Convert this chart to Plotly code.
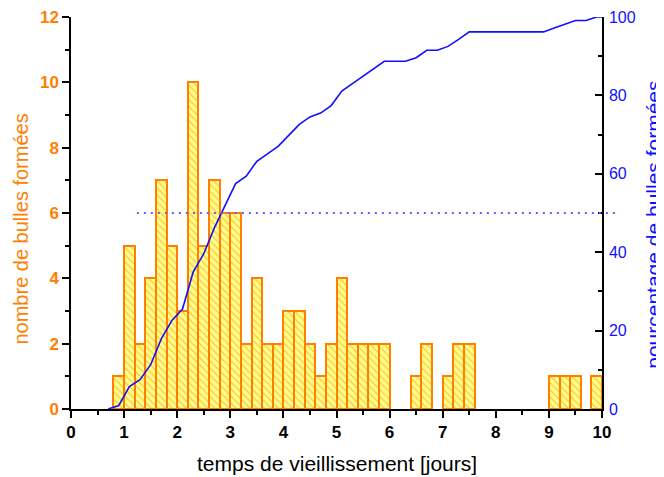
"""
Histogramme des bulles formées en fonction du temps de vieillissement,
avec le pourcentage cumulé sur l'axe de droite.
"""

import plotly.graph_objects as go

# bin centres (bins of 0.2 day)
bin_centres = [0.9, 1.1, 1.3, 1.5, 1.7, 1.9, 2.1, 2.3, 2.5, 2.7, 2.9, 3.1,
               3.3, 3.5, 3.7, 3.9, 4.1, 4.3, 4.5, 4.7, 4.9, 5.1, 5.3, 5.5,
               5.7, 5.9, 6.5, 6.7, 7.1, 7.3, 7.5, 9.1, 9.3, 9.5, 9.9]
bubble_counts = [1, 5, 2, 4, 7, 5, 3, 10, 5, 7, 6, 6,
                 2, 4, 2, 2, 3, 3, 2, 1, 2, 4, 2, 2,
                 2, 2, 1, 2, 1, 2, 2, 1, 1, 1, 1]

# cumulative percentage curve
cum_x = [0.7, 0.9, 1.1, 1.3, 1.5, 1.7, 1.9, 2.1, 2.3, 2.5, 2.7, 2.9, 3.1,
         3.3, 3.5, 3.7, 3.9, 4.1, 4.3, 4.5, 4.7, 4.9, 5.1, 5.3, 5.5, 5.7,
         5.9, 6.1, 6.3, 6.5, 6.7, 6.9, 7.1, 7.3, 7.5, 7.7, 8.9, 9.1, 9.3,
         9.5, 9.7, 9.9, 10.1]
cum_pct = [0.0, 0.9, 5.7, 7.5, 11.3, 17.9, 22.6, 25.5, 34.9, 39.6, 46.2,
           51.9, 57.5, 59.4, 63.2, 65.1, 67.0, 69.8, 72.6, 74.5, 75.5, 77.4,
           81.1, 83.0, 84.9, 86.8, 88.7, 88.7, 88.7, 89.6, 91.5, 91.5, 92.5,
           94.3, 96.2, 96.2, 96.2, 97.2, 98.1, 99.1, 99.1, 100.0, 100.0]

ORANGE = "#FF8000"
YELLOW = "#FFFF88"
BLUE = "#1010FF"
FONT = "Arial, Liberation Sans, sans-serif"

fig = go.Figure()

fig.add_trace(go.Bar(
    x=bin_centres,
    y=bubble_counts,
    width=0.2,
    marker=dict(
        color=YELLOW,
        line=dict(color=ORANGE, width=2),
        pattern=dict(shape="\\", fgcolor=ORANGE, bgcolor=YELLOW,
                     size=5, solidity=0.22),
    ),
    showlegend=False,
))

fig.add_trace(go.Scatter(
    x=cum_x,
    y=cum_pct,
    yaxis="y2",
    mode="lines",
    line=dict(color=BLUE, width=1.6),
    showlegend=False,
))

# 50 % guide line (runs slightly past the right axis)
fig.add_shape(
    type="line", xref="paper", yref="y2",
    x0=0.124, x1=1.025, y0=50, y1=50,
    line=dict(color="#6060FF", width=2, dash="2px,5px"),
)

# axis titles placed by hand
fig.add_annotation(
    text="nombre de bulles formées", textangle=-90,
    xref="paper", yref="paper", x=-0.094, y=0.458,
    xanchor="center", yanchor="middle", showarrow=False,
    font=dict(family=FONT, size=20, color=ORANGE),
)
fig.add_annotation(
    text="pourcentage de bulles formées", textangle=-90,
    xref="paper", yref="paper", x=1.098, y=0.47,
    xanchor="center", yanchor="middle", showarrow=False,
    font=dict(family=FONT, size=21, color=BLUE),
)
fig.add_annotation(
    text="temps de vieillissement [jours]",
    xref="paper", yref="paper", x=0.5, y=-0.138,
    xanchor="center", yanchor="middle", showarrow=False,
    font=dict(family=FONT, size=21, color="black"),
)

# the page body adds an 8 px offset, so the margins are shifted to compensate
fig.update_layout(
    width=664,
    height=477,
    margin=dict(l=63, r=70, t=9, b=76, autoexpand=False),
    plot_bgcolor="white",
    paper_bgcolor="white",
    bargap=0,
    font=dict(family=FONT),
    xaxis=dict(
        range=[0, 10],
        dtick=1,
        automargin=False,
        ticklabeloverflow="allow",
        showgrid=False,
        zeroline=False,
        showline=True,
        linecolor="black",
        linewidth=1.5,
        ticks="outside",
        ticklen=7,
        tickwidth=1.5,
        tickcolor="black",
        minor=dict(dtick=0.5, ticks="outside", ticklen=4, tickcolor="black", tickwidth=1.5),
        tickfont=dict(family=FONT, size=17, color="black", weight="bold"),
    ),
    yaxis=dict(
        range=[0, 12],
        dtick=2,
        automargin=False,
        ticklabeloverflow="allow",
        showgrid=False,
        zeroline=False,
        showline=True,
        linecolor="black",
        linewidth=1.5,
        ticks="outside",
        ticklen=7,
        tickwidth=1.5,
        tickcolor="black",
        minor=dict(dtick=1, ticks="outside", ticklen=4, tickcolor="black", tickwidth=1.5),
        tickfont=dict(family=FONT, size=17, color=ORANGE, weight="bold"),
    ),
    yaxis2=dict(
        range=[0, 100],
        dtick=20,
        overlaying="y",
        side="right",
        automargin=False,
        ticklabeloverflow="allow",
        showgrid=False,
        zeroline=False,
        showline=True,
        linecolor="black",
        linewidth=1.5,
        ticks="inside",
        ticklen=7,
        tickwidth=1.5,
        tickcolor="black",
        minor=dict(dtick=10, ticks="inside", ticklen=4, tickcolor="black", tickwidth=1.5),
        ticklabelstandoff=2,
        tickfont=dict(family=FONT, size=16, color=BLUE),
    ),
)

fig.write_html("out.html")
